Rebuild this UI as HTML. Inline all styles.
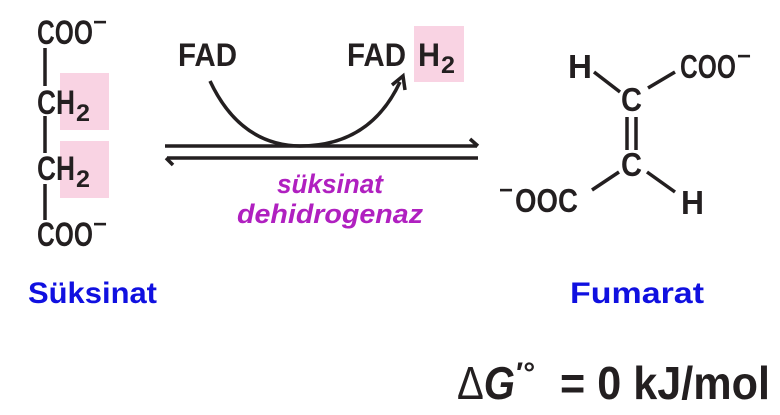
<!DOCTYPE html>
<html><head><meta charset="utf-8"><style>
html,body{margin:0;padding:0;background:#fff;}
svg{display:block;}
text{font-family:"Liberation Sans",sans-serif;font-weight:bold;fill:#231f20;}
</style></head><body>
<svg width="780" height="415" viewBox="0 0 780 415" xmlns="http://www.w3.org/2000/svg">
<rect x="60" y="73" width="49" height="57" fill="#f9d3e3"/>
<rect x="60" y="141" width="49" height="57" fill="#f9d3e3"/>
<rect x="414" y="26" width="50" height="56" fill="#f9d3e3"/>
<g stroke="#231f20" stroke-width="3.5">
<line x1="45" y1="48" x2="45" y2="86"/>
<line x1="45" y1="116" x2="45" y2="153"/>
<line x1="45" y1="184" x2="45" y2="220"/>
</g>
<text x="37" y="44" font-size="34" textLength="56" lengthAdjust="spacingAndGlyphs">COO</text>
<text x="93" y="30" font-size="24">−</text>
<text x="37" y="114" font-size="34" textLength="38" lengthAdjust="spacingAndGlyphs">CH</text>
<text x="76" y="121" font-size="24" textLength="14" lengthAdjust="spacingAndGlyphs">2</text>
<text x="37" y="180" font-size="34" textLength="38" lengthAdjust="spacingAndGlyphs">CH</text>
<text x="76" y="187" font-size="24" textLength="14" lengthAdjust="spacingAndGlyphs">2</text>
<text x="37" y="246" font-size="34" textLength="56" lengthAdjust="spacingAndGlyphs">COO</text>
<text x="93" y="232" font-size="24">−</text>
<text x="178" y="66" font-size="32" textLength="59" lengthAdjust="spacingAndGlyphs">FAD</text>
<text x="347" y="66" font-size="32" textLength="59" lengthAdjust="spacingAndGlyphs">FAD</text>
<text x="418" y="66" font-size="32" textLength="22" lengthAdjust="spacingAndGlyphs">H</text>
<text x="441" y="73" font-size="24" textLength="14" lengthAdjust="spacingAndGlyphs">2</text>
<path d="M210 81 Q 240 145 300 146 Q 370 146 400 82" fill="none" stroke="#231f20" stroke-width="3.5"/>
<path d="M392 85 L403 76 L405 90" fill="none" stroke="#231f20" stroke-width="3.5"/>
<g stroke="#231f20" stroke-width="3.5" fill="none">
<line x1="165" y1="146" x2="477" y2="146"/>
<path d="M470 139 L478 146"/>
<line x1="167" y1="158" x2="478" y2="158"/>
<path d="M173 165 L166 158"/>
</g>
<text x="330" y="193" font-size="27" font-style="italic" text-anchor="middle" style="fill:#b020c0" textLength="106" lengthAdjust="spacingAndGlyphs">süksinat</text>
<text x="330" y="223" font-size="27" font-style="italic" text-anchor="middle" style="fill:#b020c0" textLength="186" lengthAdjust="spacingAndGlyphs">dehidrogenaz</text>
<text x="568" y="78" font-size="33" textLength="24" lengthAdjust="spacingAndGlyphs">H</text>
<text x="680" y="78" font-size="33" textLength="56" lengthAdjust="spacingAndGlyphs">COO</text>
<text x="737" y="64" font-size="24">−</text>
<text x="621" y="111" font-size="33" textLength="21" lengthAdjust="spacingAndGlyphs">C</text>
<text x="621" y="176" font-size="33" textLength="21" lengthAdjust="spacingAndGlyphs">C</text>
<text x="499" y="198" font-size="24">−</text>
<text x="515" y="212" font-size="33" textLength="63" lengthAdjust="spacingAndGlyphs">OOC</text>
<text x="681" y="214" font-size="33" textLength="23" lengthAdjust="spacingAndGlyphs">H</text>
<g stroke="#231f20" stroke-width="3.5">
<line x1="594" y1="72" x2="620" y2="92"/>
<line x1="648" y1="88" x2="675" y2="72"/>
<line x1="627" y1="117" x2="627" y2="150"/>
<line x1="636" y1="117" x2="636" y2="150"/>
<line x1="619" y1="172" x2="592" y2="190"/>
<line x1="647" y1="172" x2="675" y2="192"/>
</g>
<text x="28" y="303" font-size="30" style="fill:#1010e0" textLength="129" lengthAdjust="spacingAndGlyphs">Süksinat</text>
<text x="570" y="303" font-size="30" style="fill:#1010e0" textLength="134" lengthAdjust="spacingAndGlyphs">Fumarat</text>
<text x="457" y="399" font-size="46" textLength="58" lengthAdjust="spacingAndGlyphs"><tspan font-weight="normal">Δ</tspan><tspan font-style="italic">G</tspan></text>
<text x="516" y="383" font-size="30" font-weight="normal">′°</text>
<text x="560" y="399" font-size="46" textLength="210" lengthAdjust="spacingAndGlyphs">= 0 kJ/mol</text>
</svg>
</body></html>
